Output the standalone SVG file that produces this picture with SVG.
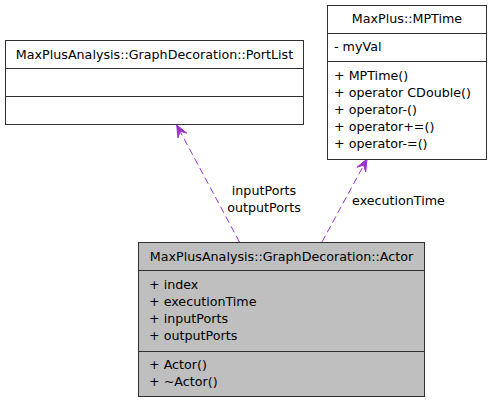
<svg xmlns="http://www.w3.org/2000/svg" width="493" height="403" viewBox="0 0 493 403">
<style>
.box{fill:#ffffff;stroke:#303030;stroke-width:1}
.cur{fill:#bfbfbf;stroke:#303030;stroke-width:1}
.div{stroke:#303030;stroke-width:1;fill:none}
text{font-family:"DejaVu Sans",sans-serif;font-size:12.7px;fill:#000000}
.c{text-anchor:middle}
.edge{stroke:#9a32cd;stroke-width:1;fill:none;stroke-dasharray:7,4}
.head{fill:#9a32cd;stroke:#9a32cd;stroke-width:1;stroke-linejoin:miter}
</style>
<rect width="493" height="403" fill="#ffffff"/>
<g id="connectors">
<path class="edge" d="M239.5,242 L180,131.2"/>
<path class="head" d="M176.7,125 L186.8,133.2 L180,131.2 L178,138 Z"/>
<path class="edge" d="M322,242 L363.7,165.2"/>
<path class="head" d="M367,159 L365.7,172 L363.7,165.2 L356.9,167.2 Z"/>
<text class="c" x="264" y="195">inputPorts</text>
<text class="c" x="264" y="212">outputPorts</text>
<text class="c" x="398.5" y="205">executionTime</text>
</g>
<g id="PortList">
<rect class="box" x="5.5" y="40.5" width="298" height="84"/>
<path class="div" d="M5.5,68.5H303.5M5.5,96.5H303.5"/>
<text class="c" x="154.5" y="58.5">MaxPlusAnalysis::GraphDecoration::PortList</text>
</g>
<g id="MPTime">
<rect class="box" x="327.5" y="5.5" width="159" height="154"/>
<path class="div" d="M327.5,33.5H486.5M327.5,61.5H486.5"/>
<text class="c" x="407" y="23">MaxPlus::MPTime</text>
<text x="334" y="51">- myVal</text>
<text x="334" y="80">+ MPTime()</text>
<text x="334" y="97">+ operator CDouble()</text>
<text x="334" y="114">+ operator-()</text>
<text x="334" y="131">+ operator+=()</text>
<text x="334" y="148">+ operator-=()</text>
</g>
<g id="Actor">
<rect class="cur" x="138.5" y="242.5" width="286" height="154"/>
<path class="div" d="M138.5,270.5H424.5M138.5,351.5H424.5"/>
<text class="c" x="281.5" y="261">MaxPlusAnalysis::GraphDecoration::Actor</text>
<text x="149" y="289">+ index</text>
<text x="149" y="306">+ executionTime</text>
<text x="149" y="323">+ inputPorts</text>
<text x="149" y="340">+ outputPorts</text>
<text x="149" y="369">+ Actor()</text>
<text x="149" y="386">+ ~Actor()</text>
</g>
</svg>
